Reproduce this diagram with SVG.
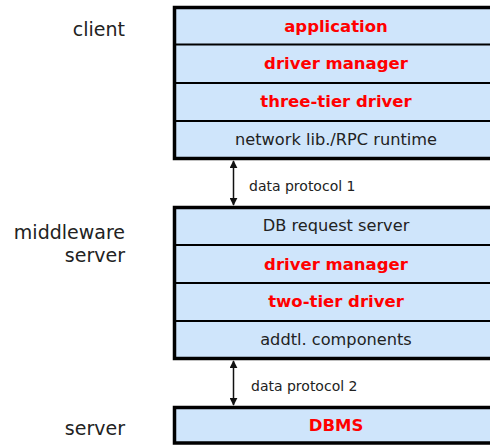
<svg xmlns="http://www.w3.org/2000/svg" width="490" height="445" viewBox="0 0 490 445">
<defs>
<marker id="ah" viewBox="0 0 10 10" refX="9" refY="5" markerWidth="8" markerHeight="8" markerUnits="userSpaceOnUse" orient="auto-start-reverse">
<path d="M0,0 L10,5 L0,10 z" fill="#111"/>
</marker>
<style>
.box{fill:#cfe5fb;stroke:none}
.frame{fill:none;stroke:#000;stroke-width:3.5}
.sep{stroke:#000;stroke-width:2}
.red{font-family:"DejaVu Sans",Verdana,sans-serif;font-weight:bold;font-size:16.5px;fill:#ff0000;text-anchor:middle}
.blk{font-family:"DejaVu Sans",Verdana,sans-serif;font-size:16.2px;fill:#222;text-anchor:middle}
.lbl{font-family:"DejaVu Sans",Verdana,sans-serif;font-size:19px;fill:#222;text-anchor:end}
.prot{font-family:"DejaVu Sans",Verdana,sans-serif;font-size:14px;fill:#222}
.conn{stroke:#111;stroke-width:1.5;fill:none}
</style>
</defs>
<rect width="490" height="445" fill="#fff"/>

<g id="labels">
<text class="lbl" x="125" y="36">client</text>
<text class="lbl" x="125" y="239">middleware</text>
<text class="lbl" x="125" y="262">server</text>
<text class="lbl" x="125" y="435">server</text>
</g>

<g id="client">
<rect class="box" x="174.5" y="7.5" width="330" height="151"/>
<g id="client-application"><text class="red" x="336" y="31.5">application</text></g>
<line class="sep" x1="174" y1="44.5" x2="500" y2="44.5"/>
<g id="client-driver-manager"><text class="red" x="336" y="69">driver manager</text></g>
<line class="sep" x1="174" y1="83" x2="500" y2="83"/>
<g id="client-three-tier"><text class="red" x="336" y="107">three-tier driver</text></g>
<line class="sep" x1="174" y1="121" x2="500" y2="121"/>
<g id="client-network"><text class="blk" x="336" y="144.5">network lib./RPC runtime</text></g>
<rect class="frame" x="174.5" y="7.5" width="330" height="151"/>
</g>

<g id="middleware">
<rect class="box" x="174.5" y="207.5" width="330" height="151"/>
<g id="mw-db-request"><text class="blk" x="336" y="231">DB request server</text></g>
<line class="sep" x1="174" y1="245" x2="500" y2="245"/>
<g id="mw-driver-manager"><text class="red" x="336" y="269.5">driver manager</text></g>
<line class="sep" x1="174" y1="283" x2="500" y2="283"/>
<g id="mw-two-tier"><text class="red" x="336" y="307">two-tier driver</text></g>
<line class="sep" x1="174" y1="321" x2="500" y2="321"/>
<g id="mw-addtl"><text class="blk" x="336" y="344.5">addtl. components</text></g>
<rect class="frame" x="174.5" y="207.5" width="330" height="151"/>
</g>

<g id="server">
<rect class="box" x="174.5" y="407.5" width="330" height="35.5"/>
<text class="red" x="336" y="430.5">DBMS</text>
<rect class="frame" x="174.5" y="407.5" width="330" height="35.5"/>
</g>

<g id="connectors">
<line class="conn" x1="233.5" y1="161" x2="233.5" y2="205" marker-start="url(#ah)" marker-end="url(#ah)"/>
<text class="prot" x="249" y="191">data protocol 1</text>
<line class="conn" x1="233.5" y1="361" x2="233.5" y2="405" marker-start="url(#ah)" marker-end="url(#ah)"/>
<text class="prot" x="251" y="390.5">data protocol 2</text>
</g>
</svg>
